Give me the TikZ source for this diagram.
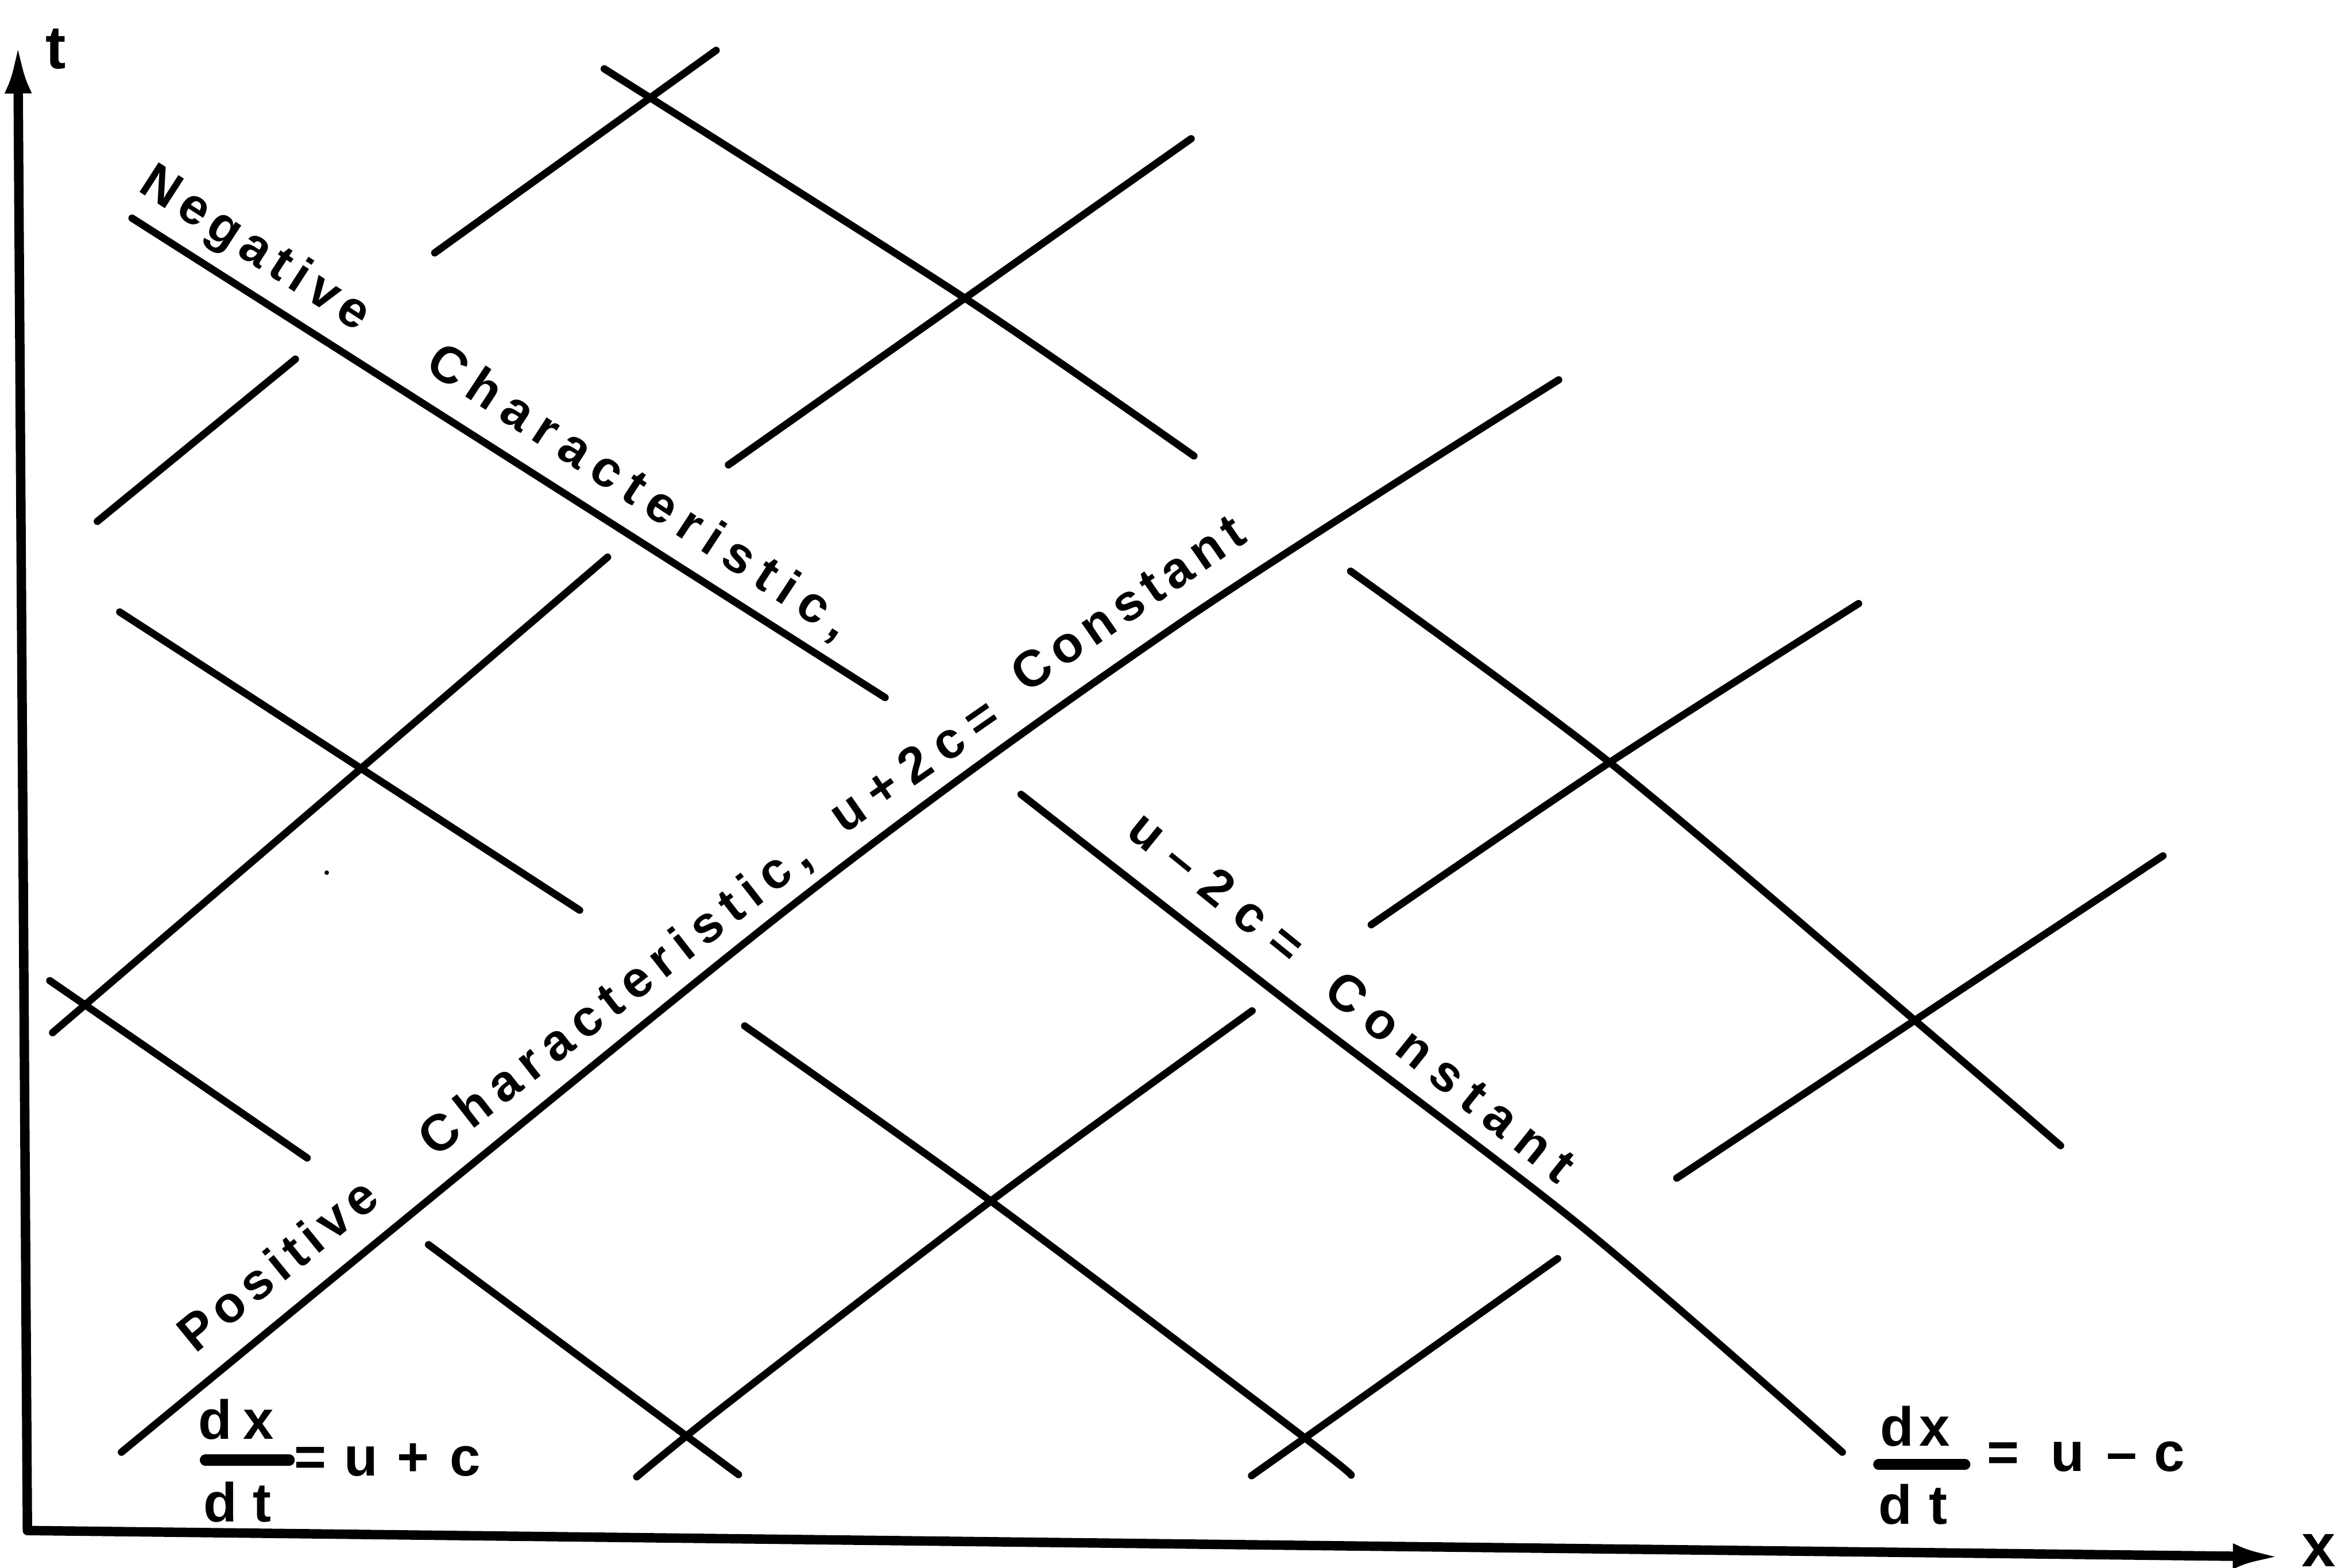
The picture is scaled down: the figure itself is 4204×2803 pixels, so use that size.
\documentclass[tikz,border=0pt]{standalone}
\usepackage{fontspec}
\setmainfont{Liberation Sans}
\usetikzlibrary{arrows.meta,decorations.text}
\newcommand\lblfont{\fontsize{26}{30}\selectfont\bfseries}
\newcommand\eqfont{\fontsize{28}{32}\selectfont\bfseries}
\begin{document}
\begin{tikzpicture}[x=0.01cm,y=-0.01cm,
  charline/.style={line width=3.7pt, line cap=round, line join=round},
  axisline/.style={line width=4.8pt, line join=round,
    {Latex[length=0.9cm,width=0.48cm]}-{Latex[length=0.9cm,width=0.45cm]}},
  glyph/.style={font=\eqfont, inner sep=0pt, anchor=base},
  axlabel/.style={font=\fontsize{31}{34}\selectfont\bfseries, inner sep=0pt, anchor=base},
  fracbar/.style={line width=5.6pt, line cap=round},
  onpath/.style={decorate, decoration={text along path, text align={fit to path}, text={|\lblfont|#1}}}
]
\fill[white] (0,0) rectangle (4204,2803);
\path[use as bounding box] (0,0) rectangle (4204,2803);

% axes
\draw[axisline] (32,77) -- (49,2736) -- (4081,2783);
\node[axlabel] (tlab) at (100,123) {t};
\node[axlabel] (xlab) at (4144,2800) {x};

% main characteristics
\draw[charline] (236,390) -- (1582,1247);
\draw[charline] plot[smooth] coordinates {(217,2596) (1400,1631) (2100,1120) (2786,679)};
\draw[charline] plot[smooth] coordinates {(1825,1420) (2300,1790) (2831,2196) (3293,2596)};

% network of short characteristics
\draw[charline] (777,452) -- (1280,90);
\draw[charline] plot[smooth] coordinates {(1080,123) (1720,530) (2134,815)};
\draw[charline] (1302,831) -- (2129,248);
\draw[charline] (174,932) -- (528,642);
\draw[charline] (214,1094) -- (1036,1627);
\draw[charline] (94,1846) -- (1086,996);
\draw[charline] (89,1753) -- (549,2070);
\draw[charline] (766,2225) -- (1320,2636);
\draw[charline] plot[smooth] coordinates {(1138,2640) (1300,2509) (1771,2147) (2238,1807)};
\draw[charline] plot[smooth] coordinates {(1331,1834) (1771,2147) (2333,2571) (2415,2637)};
\draw[charline] (2237,2638) -- (2784,2250);
\draw[charline] plot[smooth] coordinates {(2414,1021) (2877,1363) (3419,1821) (3683,2048)};
\draw[charline] plot[smooth] coordinates {(2451,1653) (2877,1363) (3322,1079)};
\draw[charline] (2997,2106) -- (3866,1530);
\fill (584,1560) circle (4);

% labels along lines
\path[onpath={Negative}] (245,340) -- (639,594);
\path[onpath={Characteristic,}] (757,660) -- (1497,1145);
\path[onpath={Positive}] (349,2421) -- (683,2149);
\path[onpath={Characteristic,}] (778,2071) -- (1455,1542);
\path[onpath={u+2c=}] (1509,1492) -- (1794,1294);
\path[onpath={Constant}] (1835,1240) -- (2232,967);
\path[onpath={u–2c=}] (2010,1492) -- (2301,1728);
\path[onpath={Constant}] (2362,1779) -- (2784,2118);

% dx/dt = u + c
\node[glyph] (ld1) at (385,2573) {d};
\node[glyph] (lx1) at (462,2573) {x};
\draw[fracbar] (367,2610) -- (517,2610);
\node[glyph] (ld2) at (394,2720) {d};
\node[glyph] (lt2) at (469,2720) {t};
\node[glyph] (leq) at (555,2638) {=};
\node[glyph] (lu) at (645,2638) {u};
\node[glyph] (lp) at (738,2638) {+};
\node[glyph] (lc) at (832,2638) {c};

% dx/dt = u - c
\node[glyph] (rd1) at (3391,2585) {d};
\node[glyph] (rx1) at (3458,2585) {x};
\draw[fracbar] (3358,2618) -- (3512,2618);
\node[glyph] (rd2) at (3388,2724) {d};
\node[glyph] (rt2) at (3464,2724) {t};
\node[glyph] (req) at (3580,2630) {=};
\node[glyph] (ru) at (3696,2630) {u};
\node[glyph] (rm) at (3793,2630) {–};
\node[glyph] (rc) at (3878,2630) {c};
\end{tikzpicture}
\end{document}
